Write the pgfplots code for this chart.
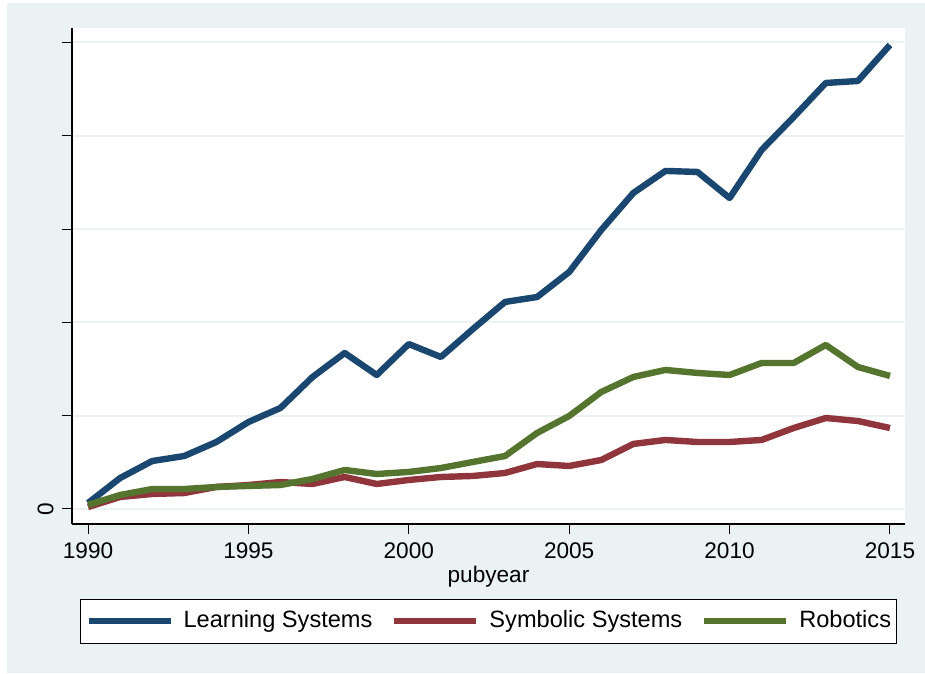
\documentclass[border=0pt]{standalone}
\usepackage{pgfplots}
\pgfplotsset{compat=1.18}
\usepackage{fontspec}
\setmainfont{Liberation Sans}
\definecolor{stbg}{RGB}{234,242,243}
\definecolor{stnavy}{RGB}{26,71,111}
\definecolor{stmaroon}{RGB}{144,53,59}
\definecolor{stgreen}{RGB}{85,117,47}
\begin{document}
\begin{tikzpicture}[x=1bp,y=1bp]
\useasboundingbox (0,0) rectangle (462.5,336.5);
\fill[white] (0,0) rectangle (462.5,336.5);
\fill[stbg] (3.5,0) rectangle (462.5,335);
\begin{axis}[
  at={(36bp,74.5bp)}, anchor=south west,
  scale only axis, width=416.5bp, height=248bp,
  axis background/.style={fill=white},
  xmin=1989.5, xmax=2015.47, ymin=-0.161, ymax=5.155,
  axis x line*=bottom, axis y line*=left,
  axis line style={black, line width=0.6bp, -},
  xtick={1990,1995,2000,2005,2010,2015},
  xticklabels={1990,1995,2000,2005,2010,2015},
  ytick={0,1,2,3,4,5},
  yticklabels={0,{},{},{},{},{}},
  tick align=outside,
  major tick length=5bp,
  tick style={black, line width=0.5bp},
  ymajorgrids, grid style={stbg, line width=1bp},
  /pgf/number format/assume math mode=true,
  ticklabel style={font=\fontsize{11.3bp}{13bp}\selectfont},
  yticklabel style={rotate=90, anchor=south, inner sep=0pt, yshift=4bp},
  xticklabel style={anchor=north, inner sep=0pt, text height=8.1bp, yshift=-4bp},
  xlabel={pubyear},
  xlabel style={font=\fontsize{11.3bp}{13bp}\selectfont, at={(axis description cs:0.5,-0.117)}, anchor=base},
  legend columns=3,
  legend cell align=left,
  legend image code/.code={\draw[#1, line width=3bp] (0bp,0bp) -- (41bp,0bp);},
  legend style={at={(axis description cs:0.0096,-0.151)}, anchor=north west,
    draw=black, line width=0.6bp, fill=white,
    inner xsep=2.5bp, inner ysep=5.5bp,
    font=\fontsize{11.8bp}{13bp}\selectfont,
    nodes={inner sep=0pt, text height=8.4bp, text depth=2.5bp},
    /tikz/every odd column/.append style={column sep=5bp},
    /tikz/every even column/.append style={column sep=9.5bp}},
  every axis plot/.append style={line width=3.2bp, line join=round},
]
\addplot[stnavy] coordinates {
(1990,0.064)(1991,0.332)(1992,0.514)(1993,0.568)(1994,0.718)(1995,0.932)
(1996,1.083)(1997,1.415)(1998,1.672)(1999,1.436)(2000,1.768)(2001,1.629)
(2002,1.929)(2003,2.219)(2004,2.272)(2005,2.540)(2006,2.990)(2007,3.387)
(2008,3.623)(2009,3.612)(2010,3.333)(2011,3.848)(2012,4.201)(2013,4.566)
(2014,4.587)(2015,4.973)};
\addlegendentry{Learning Systems}
\addplot[stmaroon] coordinates {
(1990,0.021)(1991,0.129)(1992,0.161)(1993,0.171)(1994,0.236)(1995,0.257)
(1996,0.289)(1997,0.268)(1998,0.343)(1999,0.268)(2000,0.311)(2001,0.343)
(2002,0.354)(2003,0.386)(2004,0.482)(2005,0.461)(2006,0.525)(2007,0.697)
(2008,0.740)(2009,0.718)(2010,0.718)(2011,0.740)(2012,0.868)(2013,0.975)
(2014,0.943)(2015,0.868)};
\addlegendentry{Symbolic Systems}
\addplot[stgreen] coordinates {
(1990,0.043)(1991,0.150)(1992,0.214)(1993,0.214)(1994,0.236)(1995,0.247)
(1996,0.257)(1997,0.322)(1998,0.418)(1999,0.375)(2000,0.397)(2001,0.439)
(2002,0.504)(2003,0.568)(2004,0.815)(2005,0.997)(2006,1.254)(2007,1.415)
(2008,1.490)(2009,1.458)(2010,1.436)(2011,1.565)(2012,1.565)(2013,1.758)
(2014,1.522)(2015,1.426)};
\addlegendentry{Robotics}
\end{axis}
\end{tikzpicture}
\end{document}
